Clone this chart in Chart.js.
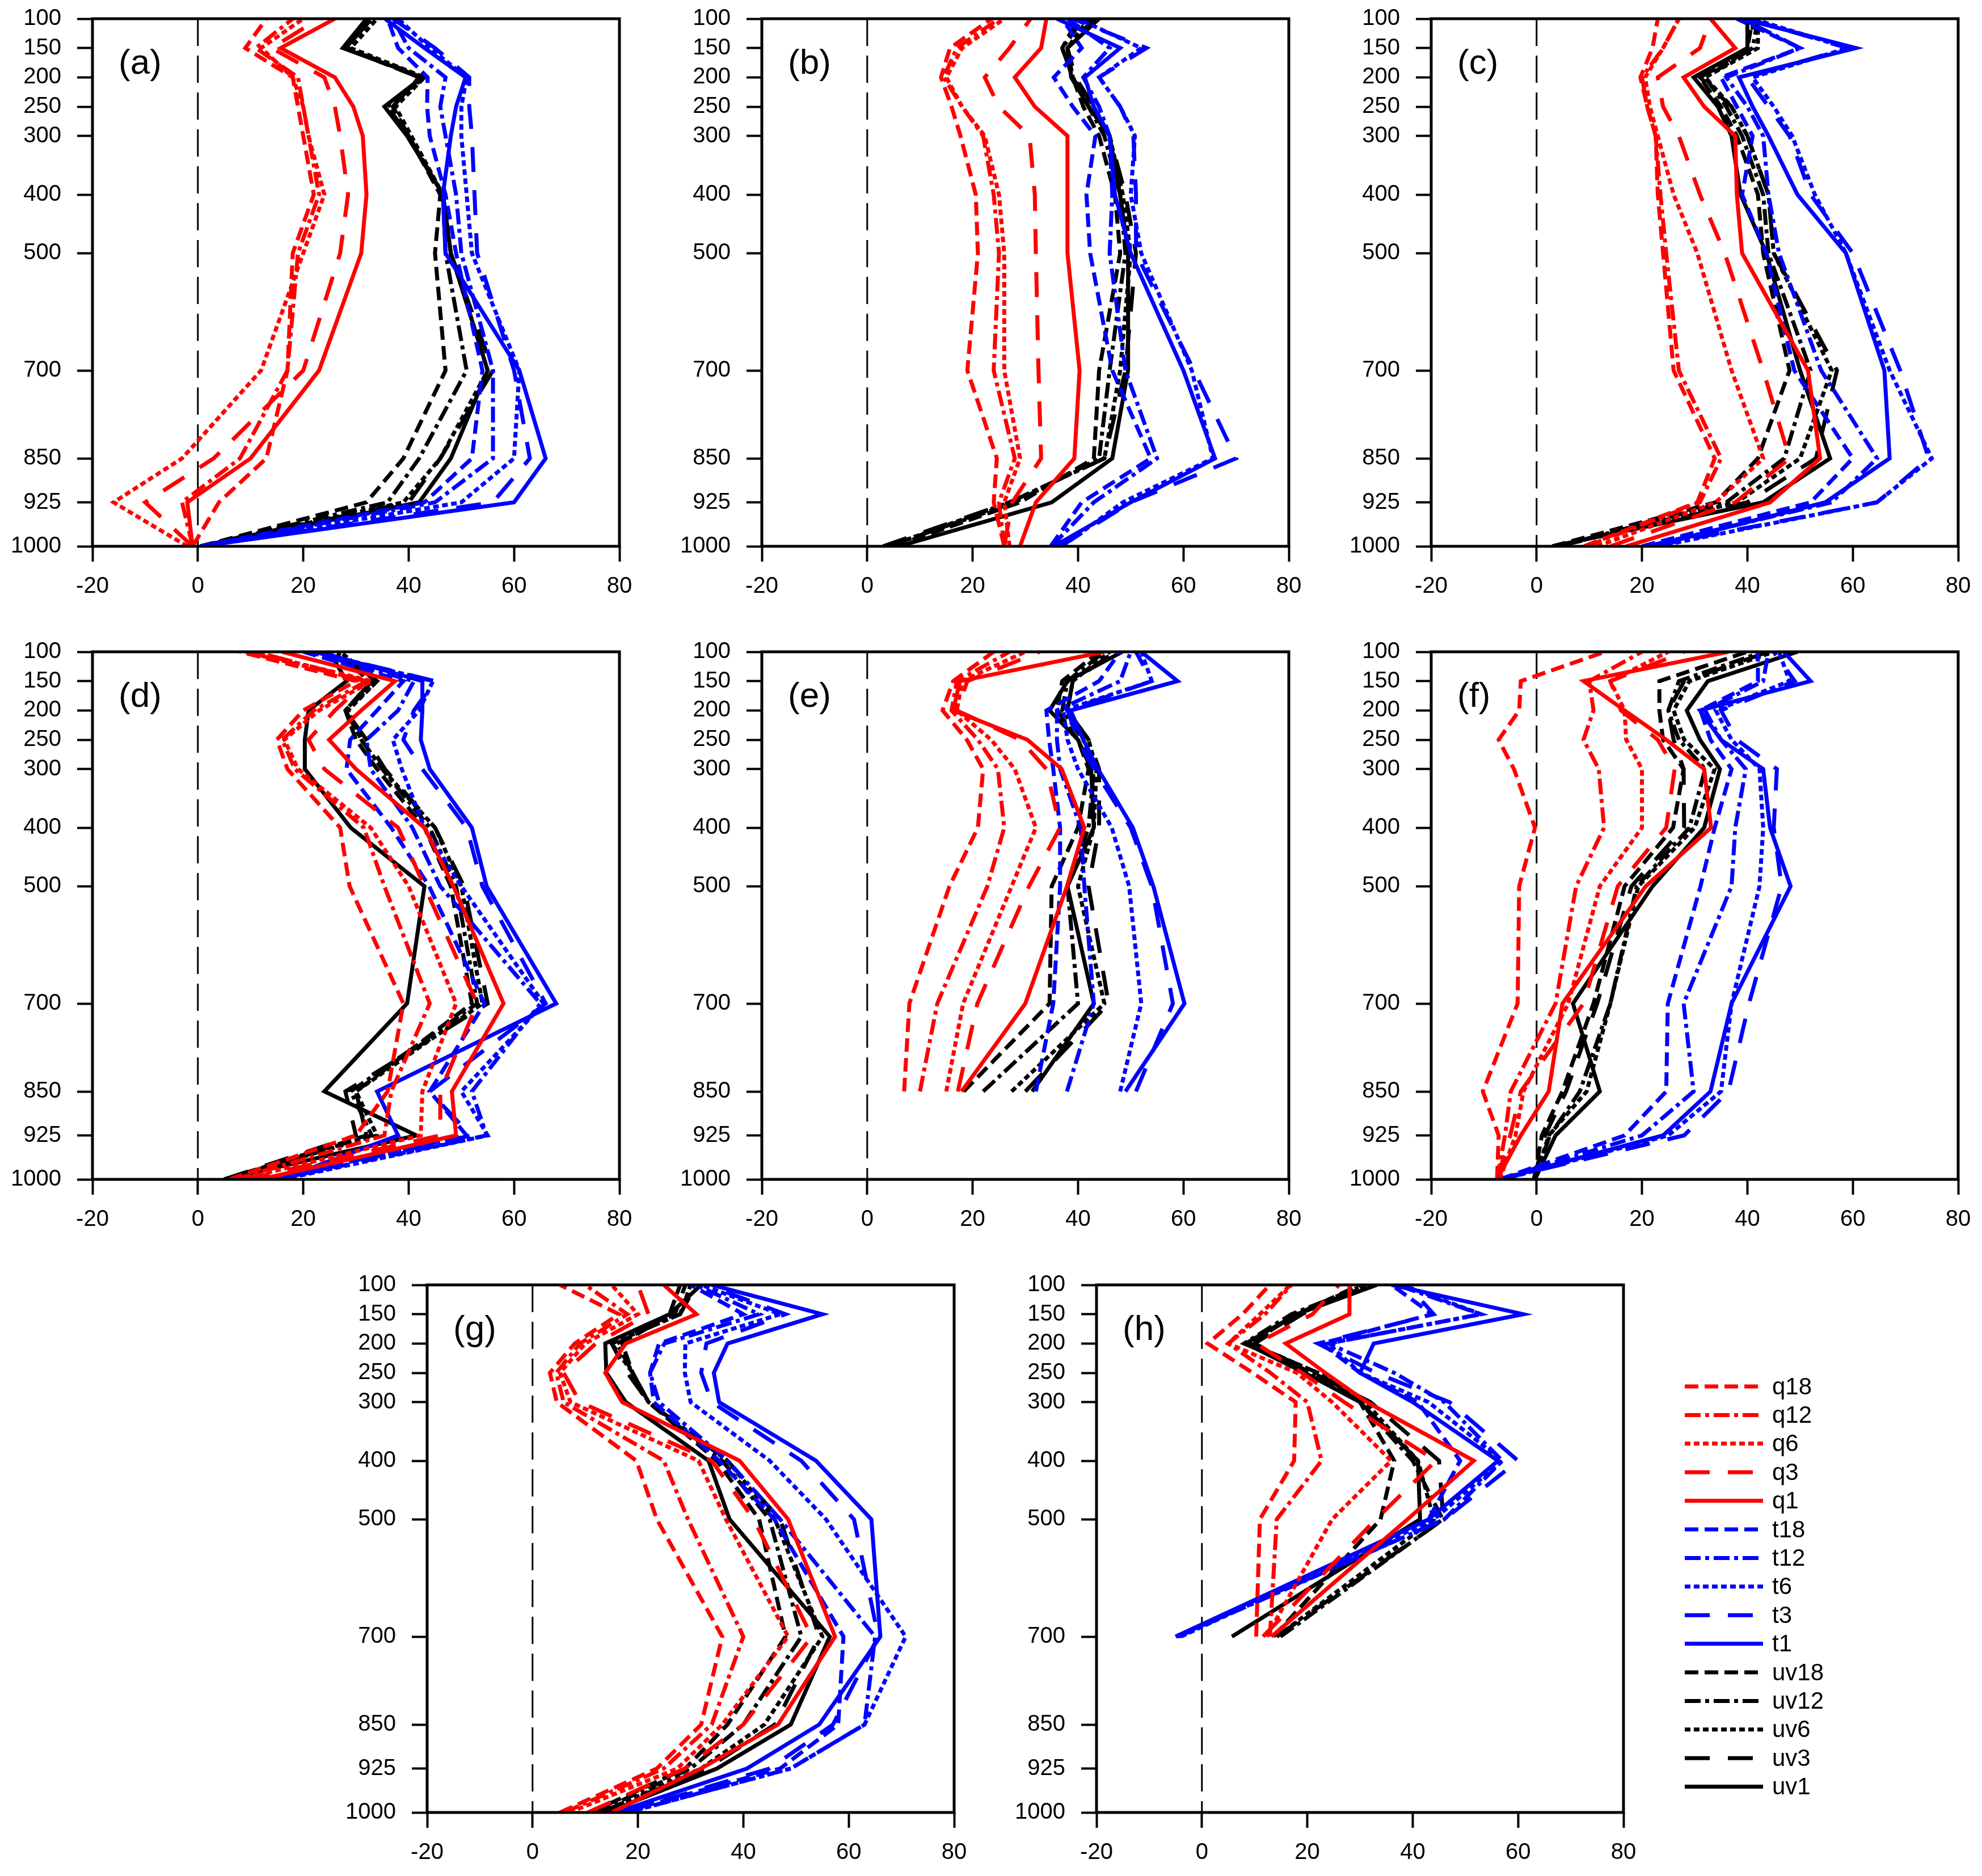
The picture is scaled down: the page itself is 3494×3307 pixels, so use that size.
<!DOCTYPE html>
<html>
<head>
<meta charset="utf-8">
<script src="https://cdn.jsdelivr.net/npm/chart.js@4.4.1/dist/chart.umd.min.js"></script>
<style>
  html, body { margin: 0; padding: 0; background: #fff; }
  body { width: 3494px; height: 3307px; position: relative; overflow: hidden; }
  canvas { position: absolute; }
</style>
</head>
<body>
<script>
// pressure levels (hPa), bottom to top
const levels = [1000, 925, 850, 700, 500, 400, 300, 250, 200, 150, 100];
const x_ticks = [-20, 0, 20, 40, 60, 80];
const series_names = ["q18", "q12", "q6", "q3", "q1", "t18", "t12", "t6", "t3", "t1", "uv18", "uv12", "uv6", "uv3", "uv1"];

// (a)
const a_q18 = [-1, 4, 13, 17, 18, 22, 20, 19, 18, 9, 13];
const a_q12 = [-1, -3, 8, 17, 19, 23, 21, 20, 19, 11, 18];
const a_q6 = [-2, -16, -3, 12, 20, 24, 21, 20, 18, 12, 20];
const a_q3 = [-1, -10, 3, 20, 27, 28.5, 27, 26, 24, 14, 23];
const a_q1 = [-1, -2, 10, 23, 31, 32, 31.3, 29.5, 26, 15.7, 26];
const a_t18 = [0.5, 43, 52, 54, 49, 47, 44, 43.5, 43.6, 38, 36];
const a_t12 = [0.5, 45, 56, 56, 50, 49, 47, 46, 47, 40, 37];
const a_t6 = [0.5, 50, 60, 61, 52, 51, 50, 50, 51, 44, 38];
const a_t3 = [0.5, 56, 63, 60, 53, 52.5, 52, 51.5, 51.5, 45, 37];
const a_t1 = [0.5, 60, 66, 61, 47, 46.5, 48, 49, 50.8, 43, 35.5];
const a_uv18 = [0.5, 32, 39, 47, 45, 46, 40, 37, 42, 28, 32];
const a_uv12 = [0.5, 36, 42, 51, 47, 46.5, 40, 36, 43, 28, 33];
const a_uv6 = [0.5, 39, 46, 55, 48, 46.5, 40.5, 37.5, 43, 29, 34];
const a_uv3 = [0.5, 40, 46, 56, 48, 46.5, 40, 37, 42, 28, 33];
const a_uv1 = [0.5, 42, 48, 55, 48, 46.5, 39.7, 35.4, 42.6, 27.5, 32];

// (b)
const b_q18 = [26, 24, 24.6, 19, 21, 20.6, 17.7, 16, 14, 15.7, 23.6];
const b_q12 = [26, 25, 28, 24, 25, 24, 22, 18, 14.5, 17, 25];
const b_q6 = [27, 26, 29, 26, 26, 25, 22.3, 18, 15, 18, 26];
const b_q3 = [26, 27.5, 33, 32.5, 32, 31.8, 30.8, 25, 22.3, 27, 31];
const b_q1 = [29, 32, 39.3, 40.3, 38, 38, 38, 31.8, 28, 33, 34];
const b_t18 = [34.8, 40.7, 53.8, 46.5, 42.3, 41.6, 43.3, 39, 35.4, 40.7, 37];
const b_t12 = [35, 43, 55, 49, 46, 46.5, 46, 44, 41, 46, 38];
const b_t6 = [37, 48.5, 65.6, 61.6, 52, 50, 50.8, 48, 44, 52, 40];
const b_t3 = [36.7, 50, 70, 62, 51, 51, 50.5, 48, 44, 53, 39];
const b_t1 = [35.4, 50, 66, 60, 50, 47, 46, 43, 41.3, 48, 36];
const b_uv18 = [5, 29, 43, 44, 48, 47, 44, 41, 39, 37, 40];
const b_uv12 = [4, 28, 44, 46, 49, 48, 45, 42, 39, 37, 41];
const b_uv6 = [4, 27, 45, 48, 50, 48.5, 46, 43, 39, 38, 42];
const b_uv3 = [3, 27, 45, 49, 51, 49, 46, 43, 39.5, 38, 43];
const b_uv1 = [6, 35, 46.5, 49.5, 49.5, 48, 46, 42, 38.7, 38, 44];

// (c)
const c_q18 = [9, 30.5, 33.8, 26, 24, 23, 22.6, 21, 19.7, 22, 23];
const c_q12 = [9.5, 31, 35, 27, 24.6, 23.5, 22.6, 21, 20, 24, 27];
const c_q6 = [11.5, 34, 43, 37, 30.5, 26, 23, 21.5, 20.6, 24, 27];
const c_q3 = [14, 37.7, 48, 43, 35.7, 31, 27, 24, 23, 31, 33];
const c_q1 = [17, 44.3, 53.8, 51.5, 39, 38, 37.7, 31.8, 27.9, 37.7, 33];
const c_t18 = [20, 52, 60, 48.9, 43.6, 39, 41, 38, 35, 50, 38];
const c_t12 = [21, 56, 64.6, 54, 46, 44, 43, 40, 36, 50, 39];
const c_t6 = [23, 64.6, 75, 67, 58.7, 52.8, 48.5, 45, 41, 59, 41];
const c_t3 = [22, 64.6, 74.4, 69, 60, 52, 48, 44, 40, 59, 40];
const c_t1 = [22, 54.8, 67, 66, 58.7, 49.5, 44, 41, 38.4, 60.6, 39];
const c_uv18 = [3, 34, 42, 48, 43, 42, 38, 35, 31, 40, 41];
const c_uv12 = [4, 36, 47, 52, 44, 43, 39, 36, 32, 41, 42];
const c_uv6 = [4, 38, 50, 56, 45, 44, 40, 37, 32, 42, 42];
const c_uv3 = [4, 40, 53, 57, 45, 44, 40, 37, 31, 41, 41];
const c_uv1 = [3, 43, 55.7, 50, 43.6, 38.7, 37, 34.4, 29.8, 40, 40];

// (d)
const d_q18 = [6, 30, 36, 39, 28.8, 27, 17, 15, 20, 30, 8];
const d_q12 = [7, 35.4, 36.7, 44, 35.4, 31.5, 18.4, 16, 22, 32, 9];
const d_q6 = [8, 42.3, 42.6, 49, 40, 32.8, 19, 16.4, 23, 33, 10];
const d_q3 = [9, 46, 46, 53, 43, 38, 24, 21, 26, 32, 11];
const d_q1 = [11.8, 49, 48.2, 58, 48.5, 43, 30, 24.9, 31, 37.4, 16];
const d_t18 = [14, 51, 44, 54.4, 43.9, 36.7, 28.2, 28.9, 34, 39, 20];
const d_t12 = [15, 54.8, 52, 65, 46, 40.7, 32.8, 32, 38, 41, 21];
const d_t6 = [16, 55, 50, 65.6, 50, 43, 38.7, 37, 42, 44.6, 22];
const d_t3 = [15, 51.8, 44, 66, 54, 51, 42.6, 39, 41, 45, 22];
const d_t1 = [15.7, 38, 34, 68, 54.8, 52, 44, 42.3, 42.6, 42.6, 23];
const d_uv18 = [5, 32, 30, 52, 48, 43, 34, 30, 28, 33, 25];
const d_uv12 = [5, 33, 29, 53, 49, 44, 35, 31, 28, 34, 26];
const d_uv6 = [5, 34, 30, 54, 50, 45, 35, 31, 28.5, 34, 27];
const d_uv3 = [5, 30, 28, 55, 50.5, 45, 35.5, 32, 28, 33, 26];
const d_uv1 = [5, 41.5, 24, 39.7, 43, 29, 20.3, 20.3, 21, 28.2, 25];

// (e) no data below 850 hPa
const e_q18 = [null, null, 7, 8, 15.6, 21, 22, 18.9, 14.3, 16.3, 24];
const e_q12 = [null, null, 10, 13.3, 22.8, 26, 24.8, 21, 16, 17, 27];
const e_q6 = [null, null, 15, 18.2, 27.4, 32, 28, 23.5, 17, 18, 30];
const e_q3 = [null, null, 17.2, 20.9, 30.7, 36.6, 34, 29, 17, 19, 32.7];
const e_q1 = [null, null, 17.9, 30, 37.9, 41.2, 36.9, 30.4, 16.3, 17.6, 45];
const e_t18 = [null, null, 32, 35.3, 36.6, 36.6, 35.3, 34.5, 34, 44, 48];
const e_t12 = [null, null, 37.9, 43, 41.2, 40.5, 36.6, 36, 36, 48, 50];
const e_t6 = [null, null, 48, 52, 49.7, 46.4, 40, 38, 37.2, 54, 52];
const e_t3 = [null, null, 51, 58, 54, 50, 43, 40, 38, 54, 51];
const e_t1 = [null, null, 49, 60.2, 54.3, 50.4, 43.8, 41, 38.6, 58.9, 52];
const e_uv18 = [null, null, 18.3, 34.6, 35, 40, 42, 40, 36, 37, 44];
const e_uv12 = [null, null, 22, 40, 38, 42, 43, 41, 37, 38, 45];
const e_uv6 = [null, null, 27.4, 45, 40, 43, 43.5, 42, 38, 39, 46];
const e_uv3 = [null, null, 30, 45.8, 42, 44, 44, 42, 38, 39, 47];
const e_uv1 = [null, null, 31.3, 43, 38, 43, 42.5, 40, 34.6, 38, 48.4];

// (f)
const f_q18 = [-7.5, -7.2, -10.2, -3.6, -3.3, -0.3, -4.3, -7.2, -3.3, -3, 13];
const f_q12 = [-7.5, -6, -4.9, 3.6, 7.5, 12.8, 11.8, 8.9, 10.8, 10, 20];
const f_q6 = [-7, -4, -2.5, 6, 12, 20, 20, 17, 16.7, 14, 25];
const f_q3 = [-7.5, -5, -3, 8.9, 15.4, 24.6, 26.2, 23, 16, 14, 28];
const f_q1 = [-7.5, -3, 2.3, 4.9, 20.7, 33.1, 31.8, 24.6, 16.7, 8.9, 36.4];
const f_t18 = [-7, 16.7, 24.6, 24.9, 31.1, 33.8, 37, 33, 31.1, 42, 42];
const f_t12 = [-7, 20, 29.8, 27.9, 37, 37.7, 39.7, 35, 32, 43, 44];
const f_t6 = [-6.5, 25, 35, 37, 42.3, 43, 42.3, 37, 34, 48, 46];
const f_t3 = [-7, 28, 36.4, 40.3, 46.5, 45, 45.6, 38, 35, 49, 45];
const f_t1 = [-7, 24, 33, 37, 48.2, 44.3, 43, 35, 31, 52, 46.9];
const f_uv18 = [-0.5, 1, 4.9, 10.8, 16.7, 25.9, 27.9, 24, 23.3, 23.3, 40];
const f_uv12 = [-0.3, 2.5, 8.2, 14, 19, 29, 32, 27, 25, 27, 43];
const f_uv6 = [-0.3, 2.3, 9.5, 14, 19.3, 30, 33.8, 28, 26, 29, 45];
const f_uv3 = [-0.5, 1.6, 5.6, 11.5, 18, 28, 27.9, 26, 25, 28, 44];
const f_uv1 = [-0.3, 3.6, 12, 6.9, 22, 31.8, 34.8, 31, 28.5, 32.5, 49.5];

// (g)
const g_q18 = [5.2, 23.6, 32, 36, 23.6, 19.7, 4.6, 3.3, 8, 16.4, 5.2];
const g_q12 = [6, 24.9, 34, 40, 29.5, 24.9, 5.9, 4.5, 9, 18, 10];
const g_q6 = [7, 27.5, 36, 48.5, 36.7, 31.5, 7.2, 5.2, 10, 20, 15];
const g_q3 = [10.5, 28.9, 40, 53, 42, 34, 9, 5.9, 12, 22, 20];
const g_q1 = [15, 32, 46.6, 57.4, 48.5, 39.3, 17, 13.8, 17.7, 31.1, 24.9];
const g_t18 = [17, 47, 58, 59, 45.9, 35.4, 23, 22.3, 24, 40, 30];
const g_t12 = [18, 49, 63, 65, 47, 37, 24, 22.3, 25, 43, 31];
const g_t6 = [18, 49, 63, 70.8, 55.7, 45, 30, 28.9, 29, 47, 32];
const g_t3 = [17, 45, 57, 65.6, 61, 51, 34, 32, 33, 48, 33];
const g_t1 = [15.7, 40.7, 54.4, 66, 64.3, 53.8, 35.4, 34.4, 37, 55, 34];
const g_uv18 = [11, 29, 37, 48, 43, 35, 22, 19, 17, 26, 28];
const g_uv12 = [12, 30, 40, 51, 45, 36, 22, 19, 16, 27, 29];
const g_uv6 = [13, 32, 44, 55, 46, 37, 22, 19, 15, 28, 30];
const g_uv3 = [13, 33, 46, 54.4, 47, 37, 22, 18, 15, 28, 31];
const g_uv1 = [14, 35, 49, 56.4, 37.4, 33.4, 17.7, 14, 13.8, 26, 32];

// (h) no data below 700 hPa
const h_q18 = [null, null, null, 10.3, 11, 17.5, 17.8, 9.6, 1.1, 7.7, 12.9];
const h_q12 = [null, null, null, 12.9, 14.2, 22.7, 20, 13, 5, 12, 17];
const h_q6 = [null, null, null, 12.3, 24.7, 35.9, 24.7, 18, 5, 11, 16.8];
const h_q3 = [null, null, null, 11.6, 33, 44.4, 27, 19, 10.3, 21, 26];
const h_q1 = [null, null, null, 13.2, 39, 51.6, 31.3, 23.4, 15.9, 28, 28];
const h_t18 = [null, null, null, -4.5, 43, 49, 41, 30, 22.7, 43.7, 36];
const h_t12 = [null, null, null, -4.5, 46, 57, 46, 36.5, 24, 52.9, 37];
const h_t6 = [null, null, null, -4, 44, 57, 43, 30, 24, 53, 38];
const h_t3 = [null, null, null, -4.8, 46, 60, 47, 33, 22, 44, 39];
const h_t1 = [null, null, null, -5, 43, 56.2, 40, 30, 32.6, 61, 36];
const h_uv18 = [null, null, null, 13.6, 33.9, 36.5, 30, 22, 9, 18, 30];
const h_uv12 = [null, null, null, 14.9, 45.7, 40, 30, 21, 8, 17, 31];
const h_uv6 = [null, null, null, 14.2, 44, 41, 31, 22, 9, 18, 32];
const h_uv3 = [null, null, null, 14.2, 45.8, 45, 32, 21, 10, 19, 31];
const h_uv1 = [null, null, null, 5.7, 41.4, 41, 30, 19.5, 8.3, 18, 33.2];

const FONT = '"Liberation Sans", Arial, Helvetica, sans-serif';
// room around the frame; top/right big enough for the end labels' overflow
const PAD_L = 170, PAD_R = 60, PAD_T = 60, PAD_B = 110;
const FRAME_W = 929, FRAME_H = 930;
const LINE_W = 7;

const color_of = { q: "#ff0000", t: "#0000ff", uv: "#000000" };
const dash_of = { "18": [24, 11], "12": [28, 8, 7, 8], "6": [10, 6], "3": [44, 32], "1": [] };

const style_of = (name) => {
    const m = name.match(/^([a-z]+)(\d+)$/);
    return { color: color_of[m[1]], dash: dash_of[m[2]] };
};

const panels = [
    { label: "(a)", left: 163, top: 33, series: [a_q18, a_q12, a_q6, a_q3, a_q1, a_t18, a_t12, a_t6, a_t3, a_t1, a_uv18, a_uv12, a_uv6, a_uv3, a_uv1] },
    { label: "(b)", left: 1343, top: 33, series: [b_q18, b_q12, b_q6, b_q3, b_q1, b_t18, b_t12, b_t6, b_t3, b_t1, b_uv18, b_uv12, b_uv6, b_uv3, b_uv1] },
    { label: "(c)", left: 2523, top: 33, series: [c_q18, c_q12, c_q6, c_q3, c_q1, c_t18, c_t12, c_t6, c_t3, c_t1, c_uv18, c_uv12, c_uv6, c_uv3, c_uv1] },
    { label: "(d)", left: 163, top: 1149, series: [d_q18, d_q12, d_q6, d_q3, d_q1, d_t18, d_t12, d_t6, d_t3, d_t1, d_uv18, d_uv12, d_uv6, d_uv3, d_uv1] },
    { label: "(e)", left: 1343, top: 1149, series: [e_q18, e_q12, e_q6, e_q3, e_q1, e_t18, e_t12, e_t6, e_t3, e_t1, e_uv18, e_uv12, e_uv6, e_uv3, e_uv1] },
    { label: "(f)", left: 2523, top: 1149, series: [f_q18, f_q12, f_q6, f_q3, f_q1, f_t18, f_t12, f_t6, f_t3, f_t1, f_uv18, f_uv12, f_uv6, f_uv3, f_uv1] },
    { label: "(g)", left: 753, top: 2265, series: [g_q18, g_q12, g_q6, g_q3, g_q1, g_t18, g_t12, g_t6, g_t3, g_t1, g_uv18, g_uv12, g_uv6, g_uv3, g_uv1] },
    { label: "(h)", left: 1933, top: 2265, series: [h_q18, h_q12, h_q6, h_q3, h_q1, h_t18, h_t12, h_t6, h_t3, h_t1, h_uv18, h_uv12, h_uv6, h_uv3, h_uv1], legend: true },
];

// frame, zero line and panel letter
const frame_plugin = {
    id: "frame",
    beforeDatasetsDraw(chart) {
        const ctx = chart.ctx, area = chart.chartArea;
        const x0 = chart.scales.x.getPixelForValue(0);
        ctx.save();
        ctx.strokeStyle = "#000";
        ctx.lineWidth = 3;
        ctx.setLineDash([48, 17]);
        ctx.beginPath();
        ctx.moveTo(x0, area.top);
        ctx.lineTo(x0, area.bottom);
        ctx.stroke();
        ctx.restore();
    },
    afterDatasetsDraw(chart) {
        const ctx = chart.ctx, area = chart.chartArea;
        ctx.save();
        ctx.strokeStyle = "#000";
        ctx.lineWidth = 5;
        ctx.strokeRect(area.left, area.top, area.right - area.left, area.bottom - area.top);
        ctx.fillStyle = "#000";
        ctx.font = "62px " + FONT;
        ctx.textBaseline = "middle";
        ctx.fillText(chart.options.plugins.frame.label, area.left + 46, area.top + 80);
        ctx.restore();
    }
};

// legend drawn beside panel (h), at page positions
const legend_plugin = {
    id: "side_legend",
    afterDraw(chart) {
        const opts = chart.options.plugins.side_legend;
        if (!opts.show) return;
        const ctx = chart.ctx;
        ctx.save();
        chart.data.datasets.forEach((ds, i) => {
            const y = opts.top + i * opts.step - opts.origin_y;
            ctx.strokeStyle = ds.borderColor;
            ctx.lineWidth = LINE_W;
            ctx.setLineDash(ds.borderDash);
            ctx.beginPath();
            ctx.moveTo(opts.line_x0 - opts.origin_x, y);
            ctx.lineTo(opts.line_x1 - opts.origin_x, y);
            ctx.stroke();
            ctx.setLineDash([]);
            ctx.fillStyle = "#000";
            ctx.font = "42px " + FONT;
            ctx.textBaseline = "middle";
            ctx.fillText(ds.label, opts.text_x - opts.origin_x, y + 2);
        });
        ctx.restore();
    }
};

const make_panel = (p) => {
    const extra_r = p.legend ? 3494 - (p.left + FRAME_W + PAD_R) : 0;
    const W = PAD_L + FRAME_W + PAD_R + extra_r;
    const H = PAD_T + FRAME_H + PAD_B;
    const cx = p.left - PAD_L, cy = p.top - PAD_T;
    const canvas = document.createElement("canvas");
    canvas.width = W;
    canvas.height = H;
    canvas.style.left = cx + "px";
    canvas.style.top = cy + "px";
    canvas.style.width = W + "px";
    canvas.style.height = H + "px";
    document.body.appendChild(canvas);

    const datasets = series_names.map((name, i) => {
        const st = style_of(name);
        return {
            label: name,
            data: levels.map((lev, k) => ({ x: p.series[i][k], y: lev })).filter((pt) => pt.x !== null),
            borderColor: st.color,
            backgroundColor: st.color,
            borderDash: st.dash,
            borderWidth: LINE_W,
            pointRadius: 0,
            showLine: true,
            fill: false,
            tension: 0
        };
    });

    const tick_font = { family: FONT, size: 40 };

    new Chart(canvas, {
        type: "scatter",
        data: { datasets: datasets },
        options: {
            responsive: false,
            animation: false,
            devicePixelRatio: 1,
            layout: { padding: { left: 0, top: PAD_T, right: PAD_R + extra_r, bottom: 0 } },
            scales: {
                x: {
                    type: "linear",
                    min: -20,
                    max: 80,
                    afterBuildTicks: (s) => { s.ticks = x_ticks.map((v) => ({ value: v })); },
                    afterFit: (s) => { s.height = PAD_B; },
                    border: { display: false },
                    grid: { drawOnChartArea: false, drawTicks: true, tickLength: 27, tickWidth: 4, tickColor: "#000" },
                    ticks: { color: "#000", font: tick_font, padding: 20, maxRotation: 0, autoSkip: false, callback: (v) => String(v) }
                },
                y: {
                    type: "linear",
                    reverse: true,
                    min: 100,
                    max: 1000,
                    afterBuildTicks: (s) => { s.ticks = levels.map((v) => ({ value: v })); },
                    afterFit: (s) => { s.width = PAD_L; },
                    border: { display: false },
                    grid: { drawOnChartArea: false, drawTicks: true, tickLength: 27, tickWidth: 4, tickColor: "#000" },
                    ticks: { color: "#000", font: tick_font, padding: 28, autoSkip: false, callback: (v) => String(v) }
                }
            },
            plugins: {
                legend: { display: false },
                tooltip: { enabled: false },
                frame: { label: p.label },
                side_legend: {
                    show: !!p.legend,
                    origin_x: cx, origin_y: cy,
                    top: 2444, step: 50.4,
                    line_x0: 2970, line_x1: 3108, text_x: 3124
                }
            }
        },
        plugins: [frame_plugin, legend_plugin]
    });
};

panels.forEach(make_panel);
</script>
</body>
</html>
